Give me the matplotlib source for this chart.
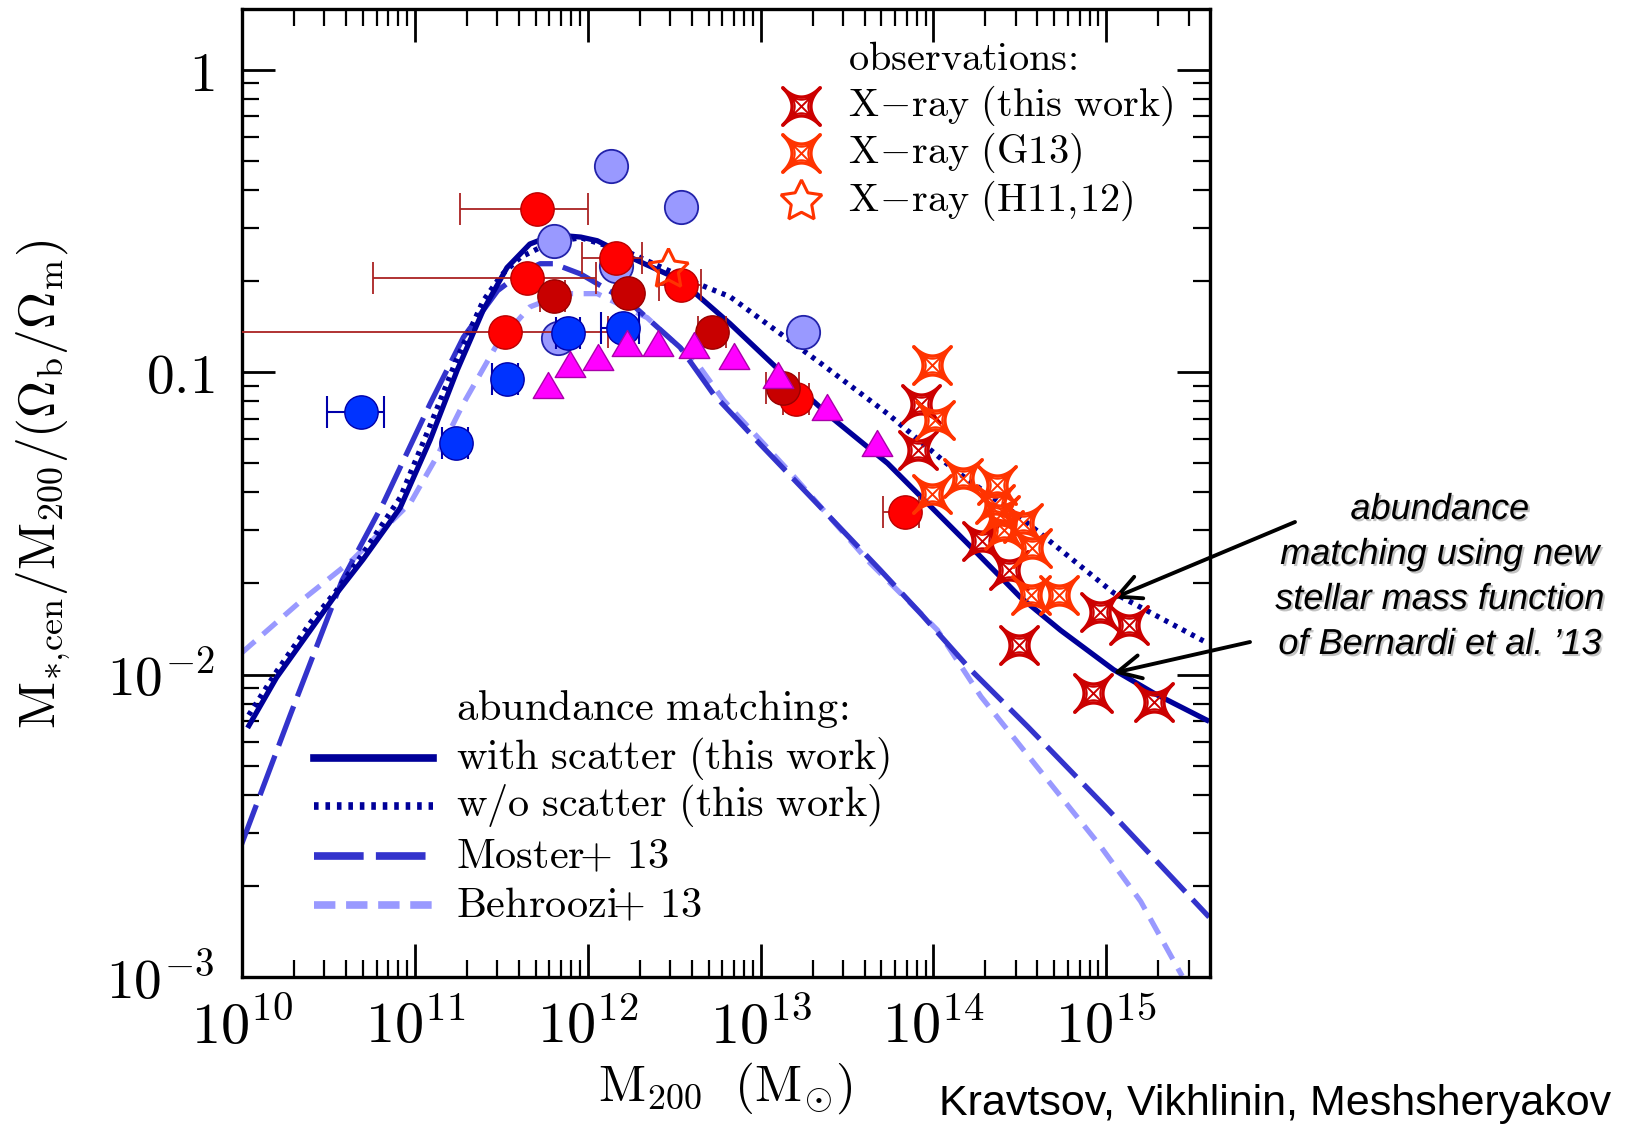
import numpy as np
import matplotlib
matplotlib.use('Agg')
import matplotlib.pyplot as plt
from matplotlib.path import Path
from matplotlib.ticker import LogLocator, NullFormatter, FixedLocator
import matplotlib.patheffects as pe

plt.rcParams['mathtext.fontset'] = 'cm'
plt.rcParams['font.family'] = ['DejaVu Serif']

# ---------------- curves: log10(M200) and log10(ratio) ----------------
solid_logm = [10.04, 10.20, 10.40, 10.55, 10.70, 10.915, 11.089, 11.245, 11.395, 11.533,
              11.665, 11.76, 11.857, 11.96, 12.055, 12.247, 12.535, 12.823, 13.10, 13.405,
              13.735, 14.196, 14.502, 14.736, 15.042, 15.276, 15.582]
solid_logf = [-2.169, -2.01, -1.85, -1.73, -1.62, -1.449, -1.224, -0.994, -0.796, -0.655,
              -0.577, -0.556, -0.549, -0.554, -0.566, -0.621, -0.696, -0.840, -0.99, -1.148,
              -1.302, -1.566, -1.744, -1.854, -1.984, -2.062, -2.151]

dotted_logm = [10.039, 10.20, 10.399, 10.55, 10.699, 10.915, 11.089, 11.245, 11.395, 11.50,
               11.611, 11.779, 11.959, 12.247, 12.631, 12.823, 13.345, 13.735, 14.119,
               14.502, 15.042, 15.582]
dotted_logf = [-2.134, -1.99, -1.826, -1.72, -1.60, -1.415, -1.176, -0.953, -0.765, -0.68,
               -0.621, -0.573, -0.556, -0.607, -0.707, -0.751, -0.970, -1.138, -1.323,
               -1.480, -1.730, -1.895]

moster_logm = [9.997, 10.279, 10.579, 10.819, 11.089, 11.281, 11.479, 11.62, 11.725, 11.803,
               11.959, 12.247, 12.535, 12.727, 13.0, 13.345, 13.693, 13.927, 14.215, 14.545,
               15.0, 15.595]
moster_logf = [-2.562, -2.134, -1.689, -1.432, -1.104, -0.885, -0.731, -0.67, -0.642, -0.642,
               -0.676, -0.772, -0.919, -1.073, -1.24, -1.446, -1.655, -1.799, -1.984, -2.172,
               -2.44, -2.802]

behroozi_logm = [9.997, 10.339, 10.639, 10.975, 11.125, 11.281, 11.479, 11.665, 11.863,
                 12.055, 12.343, 12.631, 12.787, 13.2, 13.633, 14.023, 14.275, 14.599,
                 14.959, 15.199, 15.439]
behroozi_logf = [-1.929, -1.758, -1.621, -1.432, -1.282, -1.104, -0.905, -0.785, -0.741,
                 -0.741, -0.820, -0.970, -1.094, -1.35, -1.631, -1.853, -2.073, -2.305,
                 -2.562, -2.750, -2.997]

# ---------------- observational points ----------------
lblue_logm = [12.133, 12.541, 11.803, 12.163, 11.827, 13.248]
lblue_f = [0.479, 0.352, 0.272, 0.2244, 0.130, 0.1357]

red_logm = [11.707, 11.647, 11.521, 12.163, 12.541, 13.836, 13.206]
red_f = [0.347, 0.204, 0.136, 0.2375, 0.1935, 0.0344, 0.0813]
red_lo = [11.263, 10.759, 9.0, 11.965, 12.415, 13.71, 13.13]
red_hi = [12.001, 12.049, 12.115, 12.313, 12.655, 13.914, 13.28]

dred_logm = [11.803, 12.235, 12.720, 13.128]
dred_f = [0.1787, 0.183, 0.1358, 0.0887]
dred_lo = [11.725, 12.235, 12.64, 13.03]
dred_hi = [11.869, 12.235, 12.80, 13.22]

blue_logm = [10.687, 11.239, 11.533, 11.887, 12.205]
blue_f = [0.0736, 0.0583, 0.0950, 0.1346, 0.140]
blue_lo = [10.492, 11.158, 11.447, 11.818, 12.078]
blue_hi = [10.822, 11.308, 11.597, 11.956, 12.298]

tri_logm = [11.773, 11.899, 12.061, 12.229, 12.409, 12.613, 12.847, 13.099, 13.387, 13.675]
tri_f = [0.0907, 0.106, 0.112, 0.1244, 0.1244, 0.1225, 0.1132, 0.0975, 0.0769, 0.0583]

xthis_logm = [13.926, 13.908, 14.280, 14.436, 14.496, 14.964, 15.132, 14.922, 15.276]
xthis_f = [0.0782, 0.0552, 0.0276, 0.0221, 0.01254, 0.01614, 0.01456, 0.00866, 0.00813]

g13_logm = [13.992, 14.010, 13.992, 14.172, 14.370, 14.358, 14.388, 14.520, 14.568,
            14.562, 14.724, 14.406]
g13_f = [0.1055, 0.0694, 0.0394, 0.0447, 0.0423, 0.0367, 0.0336, 0.0316, 0.0261,
         0.0183, 0.0183, 0.0301]

h11_logm = [12.463]
h11_f = [0.2195]

xtick_vals = [1e10, 1e11, 1e12, 1e13, 1e14, 1e15]
xtick_labels = [r'$10^{10}$', r'$10^{11}$', r'$10^{12}$', r'$10^{13}$', r'$10^{14}$', r'$10^{15}$']
ytick_vals = [1e-3, 1e-2, 0.1, 1.0]
ytick_labels = [r'$10^{-3}$', r'$10^{-2}$', r'$0.1$', r'$1$']

obs_title = r'$\mathrm{observations\!:}$'
obs_labels = [r'$\mathrm{X\!-\!ray\ (this\ work)}$', r'$\mathrm{X\!-\!ray\ (G13)}$',
              r'$\mathrm{X\!-\!ray\ (H11,\!12)}$']
am_title = r'$\mathrm{abundance\ matching\!:}$'
am_labels = [r'$\mathrm{with\ scatter\ (this\ work)}$', r'$\mathrm{w/o\ scatter\ (this\ work)}$',
             r'$\mathrm{Moster\!\!+\!\ 13}$', r'$\mathrm{Behroozi\!\!+\!\ 13}$']

# ---------------- marker shapes ----------------
def star_ring(p=4.0, n=161):
    t = np.linspace(0, 2 * np.pi, n)
    x0 = np.sign(np.cos(t)) * np.abs(np.cos(t)) ** p
    y0 = np.sign(np.sin(t)) * np.abs(np.sin(t)) ** p
    return np.column_stack([(x0 - y0) / np.sqrt(2), (x0 + y0) / np.sqrt(2)])

def outer_path():
    ring = star_ring()
    codes = [Path.MOVETO] + [Path.LINETO] * (len(ring) - 2) + [Path.CLOSEPOLY]
    return Path(ring, codes)

def inner_path():
    ring = star_ring(p=4.0)
    verts = list(ring)
    codes = [Path.MOVETO] + [Path.LINETO] * (len(ring) - 2) + [Path.CLOSEPOLY]
    c = 0.55
    verts += [(-c, -c), (c, c), (-c, c), (c, -c)]
    codes += [Path.MOVETO, Path.LINETO, Path.MOVETO, Path.LINETO]
    return Path(np.array(verts), codes)

SPARK_OUT = outer_path()
SPARK_IN = inner_path()
TRI = Path([(-1, -0.85), (1, -0.85), (0, 0.85), (-1, -0.85)],
           [Path.MOVETO, Path.LINETO, Path.LINETO, Path.CLOSEPOLY])

c_this = '#CC0000'
c_g13 = '#FF3300'

def P(a):
    return 10 ** np.asarray(a, dtype=float)

SS = 27

def sparkle(axis, x, y, color, z, **kw):
    axis.plot(x, y, ls='none', marker=SPARK_OUT, ms=SS, mfc='none', mec=color, mew=2.5,
              zorder=z, **kw)
    axis.plot(x, y, ls='none', marker=SPARK_IN, ms=SS * 0.72, mfc='none', mec=color, mew=1.4,
              zorder=z, **kw)

# ---------------- figure ----------------
fig = plt.figure(figsize=(16.25, 11.31), dpi=100)
ax = fig.add_axes([242 / 1625, 1 - 977 / 1131, 968 / 1625, 968 / 1131])
ax.set_xscale('log')
ax.set_yscale('log')

ax.plot(P(behroozi_logm), P(behroozi_logf), color='#9999FF', lw=3.8, ls=(0, (3.4, 2.0)), zorder=2)
ax.plot(P(moster_logm), P(moster_logf), color='#3333CC', lw=3.8, ls=(0, (8, 2)), zorder=2.1)
ax.plot(P(dotted_logm), P(dotted_logf), color='#000099', lw=3.8, ls=(0, (0.8, 1.1)), zorder=2.2)
ax.plot(P(solid_logm), P(solid_logf), color='#000099', lw=3.8, zorder=2.3)

MS = 24
ax.plot(P(lblue_logm), lblue_f, ls='none', marker='o', ms=MS, mfc='#9999FF', mec='#2222AA',
        mew=1.3, zorder=3)

rm = P(red_logm)
ax.errorbar(rm, red_f, xerr=[rm - P(red_lo), P(red_hi) - rm], fmt='none', ecolor='#AA2222',
            elinewidth=1.3, capsize=11.5, capthick=1.3, zorder=3.5)
ax.plot(rm, red_f, ls='none', marker='o', ms=MS, mfc='#FF0000', mec='#BB0000', mew=1.0, zorder=4)

dm = P(dred_logm)
ax.errorbar(dm, dred_f, xerr=[dm - P(dred_lo), P(dred_hi) - dm], fmt='none', ecolor='#AA2222',
            elinewidth=1.3, capsize=11.5, capthick=1.3, zorder=3.5)
ax.plot(dm, dred_f, ls='none', marker='o', ms=MS, mfc='#C80000', mec='#990000', mew=1.0, zorder=4)

bm = P(blue_logm)
ax.errorbar(bm, blue_f, xerr=[bm - P(blue_lo), P(blue_hi) - bm], fmt='none', ecolor='#0000AA',
            elinewidth=1.5, capsize=11.5, capthick=1.5, zorder=4.5)
ax.plot(bm, blue_f, ls='none', marker='o', ms=MS, mfc='#0033FF', mec='#0000AA', mew=1.0, zorder=5)

ax.plot(P(tri_logm), tri_f, ls='none', marker=TRI, ms=22, mfc='#FF00FF', mec='#AA00AA',
        mew=1.0, zorder=5)

sparkle(ax, P(xthis_logm), xthis_f, c_this, 6)
sparkle(ax, P(g13_logm), g13_f, c_g13, 6.5)
ax.plot(P(h11_logm), h11_f, ls='none', marker=(5, 1, 0), ms=30, mfc='none', mec=c_g13,
        mew=2.2, zorder=6.5)

ax.set_xlim(1e10, 10 ** 15.6)
ax.set_ylim(1e-3, 10 ** 0.2)
ax.xaxis.set_major_locator(FixedLocator(xtick_vals))
ax.set_xticklabels(xtick_labels)
ax.yaxis.set_major_locator(FixedLocator(ytick_vals))
ax.set_yticklabels(ytick_labels)
ax.xaxis.set_minor_locator(LogLocator(base=10, subs=np.arange(2, 10), numticks=30))
ax.yaxis.set_minor_locator(LogLocator(base=10, subs=np.arange(2, 10), numticks=30))
ax.xaxis.set_minor_formatter(NullFormatter())
ax.yaxis.set_minor_formatter(NullFormatter())
ax.tick_params(which='both', direction='in', top=True, right=True)
ax.tick_params(which='major', length=24, width=2.0)
ax.tick_params(which='minor', length=12, width=1.6)
ax.tick_params(axis='x', which='major', labelsize=42, pad=16)
ax.tick_params(axis='y', which='major', labelsize=40, pad=20)
for s in ax.spines.values():
    s.set_linewidth(2.4)

# observation legend (manual)
ax.text(0.626, 0.948, obs_title, transform=ax.transAxes, fontsize=29, ha='left', va='center')
leg_y = [0.900, 0.851, 0.802]
sparkle(ax, [0.5775], [leg_y[0]], c_this, 7, transform=ax.transAxes, clip_on=False)
sparkle(ax, [0.5775], [leg_y[1]], c_g13, 7, transform=ax.transAxes, clip_on=False)
ax.plot([0.5775], [leg_y[2]], transform=ax.transAxes, marker=(5, 1, 0), ms=31, mfc='none',
        mec=c_g13, mew=2.2, clip_on=False, zorder=7)
for yy, lab in zip(leg_y, obs_labels):
    ax.text(0.626, yy, lab, transform=ax.transAxes, fontsize=29, ha='left', va='center')

# abundance matching legend (manual)
ax.text(0.221, 0.277, am_title, transform=ax.transAxes, fontsize=30.5, ha='left', va='center')
am_y = [0.226, 0.177, 0.125, 0.0744]
am_styles = [dict(color='#000099', ls='-'), dict(color='#000099', ls=(0, (0.6, 0.9))),
             dict(color='#3333CC', ls=(0, (6.5, 1.6))), dict(color='#9999FF', ls=(0, (2.8, 1.4)))]
for yy, lab, st in zip(am_y, am_labels, am_styles):
    ax.plot([0.0744, 0.197], [yy, yy], transform=ax.transAxes, lw=5.5, zorder=7, **st)
    ax.text(0.221, yy, lab, transform=ax.transAxes, fontsize=30.5, ha='left', va='center')

# axis labels
fig.text(44 / 1625, 1 - 484 / 1131, r'$\mathrm{M_{*,\!cen}/M_{200}/(\Omega_b/\Omega_m)}$',
         rotation=90, fontsize=37, ha='center', va='center')
fig.text(725 / 1625, 1 - 1088 / 1131, r'$\mathrm{M_{200}}\ \ (\mathrm{M}_{\odot})$',
         fontsize=37, ha='center', va='center')
fig.text(1611 / 1625, 1 - 1104 / 1131, 'Kravtsov, Vikhlinin, Meshsheryakov',
         family='Liberation Sans', fontsize=31, ha='right', va='center')

# annotation
fig.text(1440 / 1625, 1 - 577 / 1131,
         'abundance\nmatching using new\nstellar mass function\nof Bernardi et al. \u201913',
         family='Liberation Sans', style='italic', fontsize=26, ha='center', va='center',
         linespacing=1.37,
         path_effects=[pe.SimplePatchShadow(offset=(1.5, -1.5), shadow_rgbFace='#888888', alpha=0.5),
                       pe.Normal()])
arrow_kw = dict(arrowstyle='->', lw=2.8, color='black', mutation_scale=42, shrinkA=0, shrinkB=0)
ax.annotate('', xy=(10 ** 15.04, 10 ** -1.748), xycoords='data',
            xytext=(1295 / 1625, 1 - 522 / 1131), textcoords='figure fraction',
            arrowprops=arrow_kw, annotation_clip=False)
ax.annotate('', xy=(10 ** 15.04, 10 ** -1.995), xycoords='data',
            xytext=(1250 / 1625, 1 - 642 / 1131), textcoords='figure fraction',
            arrowprops=arrow_kw, annotation_clip=False)

fig.savefig('out.png', dpi=100)
